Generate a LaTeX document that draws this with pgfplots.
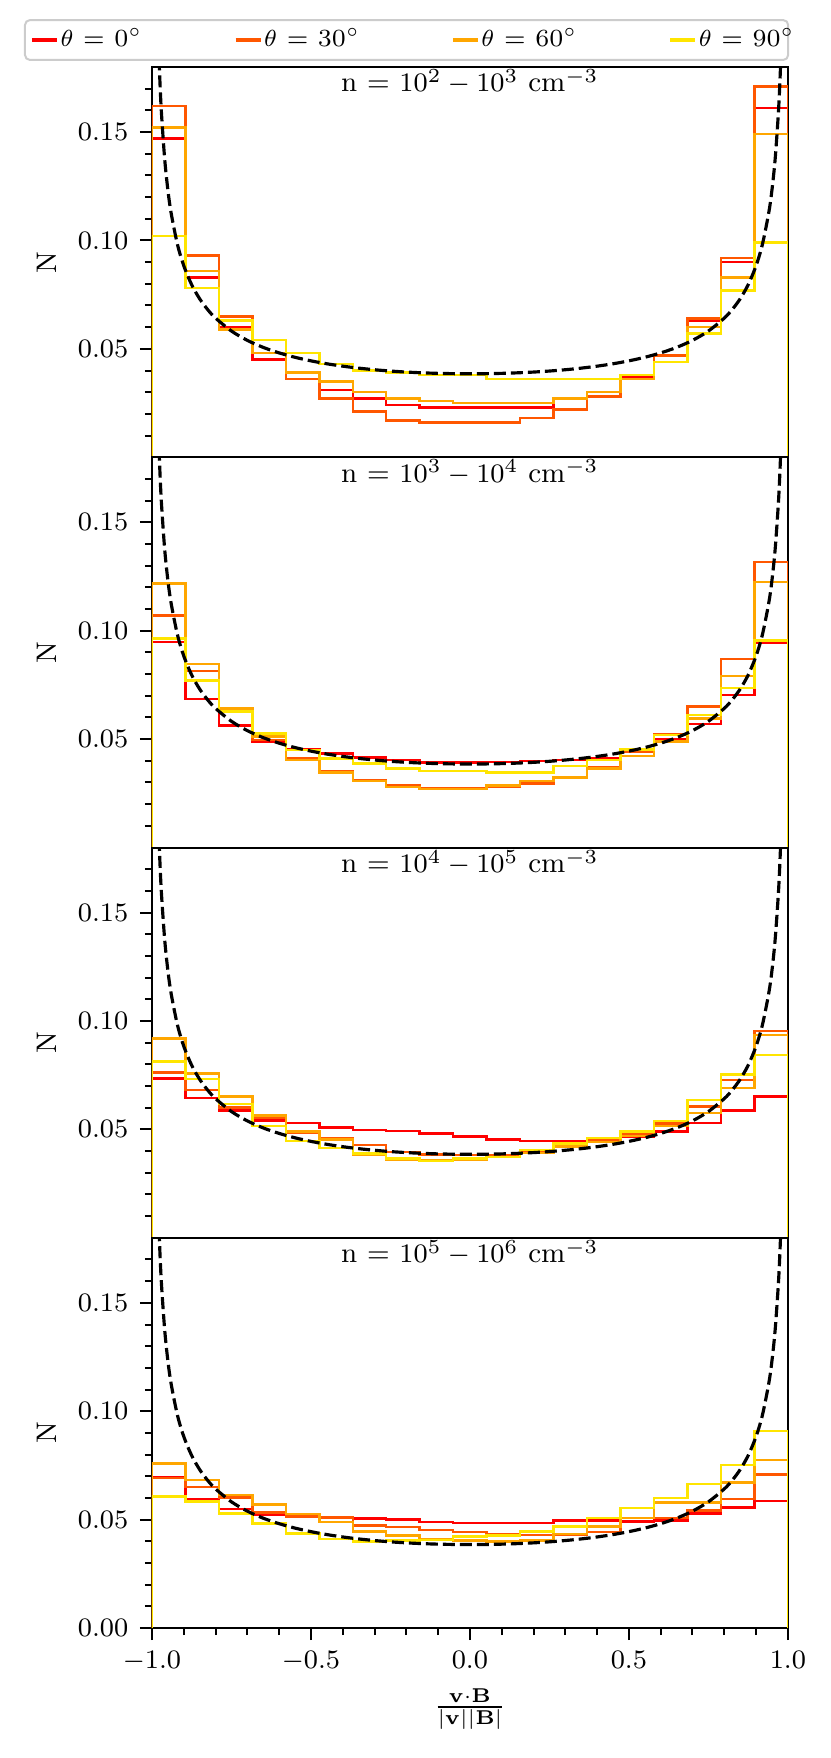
\documentclass[border=0pt]{standalone}
\usepackage{pgfplots}
\pgfplotsset{compat=1.18}
\usepackage{pgfplotstable}
\usepgfplotslibrary{groupplots}
\definecolor{cA}{rgb}{1,0,0}
\definecolor{cB}{rgb}{1,0.34,0}
\definecolor{cC}{rgb}{1,0.65,0}
\definecolor{cD}{rgb}{1,0.9,0}

% bin left edges (19 bins on [-1,1]); first and last rows close the step outline at 0
\pgfplotstableread{
x r a b c
-1 0 0 0 0
-1.000000 0.147 0.162 0.152 0.102
-0.894737 0.083 0.093 0.086 0.078
-0.789474 0.060 0.065 0.059 0.063
-0.684211 0.045 0.048 0.048 0.054
-0.578947 0.036 0.036 0.039 0.048
-0.473684 0.031 0.027 0.035 0.043
-0.368421 0.027 0.021 0.030 0.040
-0.263158 0.024 0.017 0.027 0.039
-0.157895 0.023 0.016 0.026 0.038
-0.052632 0.023 0.016 0.025 0.038
0.052632 0.023 0.016 0.025 0.036
0.157895 0.023 0.018 0.025 0.036
0.263158 0.027 0.022 0.027 0.036
0.368421 0.030 0.028 0.030 0.036
0.473684 0.037 0.036 0.036 0.038
0.578947 0.047 0.047 0.044 0.044
0.684211 0.063 0.064 0.060 0.057
0.789474 0.090 0.092 0.083 0.077
0.894737 0.161 0.171 0.149 0.099
1 0.161 0.171 0.149 0.099
1 0 0 0 0
}\tA

\pgfplotstableread{
x r a b c
-1 0 0 0 0
-1.000000 0.0948 0.1071 0.1218 0.0963
-0.894737 0.0684 0.0815 0.0846 0.0770
-0.789474 0.0562 0.0634 0.0642 0.0627
-0.684211 0.0488 0.0495 0.0511 0.0526
-0.578947 0.0455 0.0410 0.0403 0.0449
-0.473684 0.0434 0.0350 0.0346 0.0410
-0.368421 0.0415 0.0310 0.0307 0.0387
-0.263158 0.0403 0.0285 0.0279 0.0364
-0.157895 0.0392 0.0275 0.0271 0.0352
-0.052632 0.0392 0.0275 0.0270 0.0352
0.052632 0.0395 0.0280 0.0287 0.0347
0.157895 0.0398 0.0295 0.0307 0.0347
0.263158 0.0403 0.0320 0.0323 0.0375
0.368421 0.0410 0.0370 0.0364 0.0403
0.473684 0.0441 0.0441 0.0423 0.0452
0.578947 0.0500 0.0523 0.0488 0.0519
0.684211 0.0570 0.0650 0.0596 0.0611
0.789474 0.0704 0.0869 0.0792 0.0735
0.894737 0.0943 0.1316 0.1224 0.0955
1 0.0943 0.1316 0.1224 0.0955
1 0 0 0 0
}\tB

\pgfplotstableread{
x r a b c
-1 0 0 0 0
-1.000000 0.0735 0.0763 0.0919 0.0812
-0.894737 0.0644 0.0682 0.0758 0.0732
-0.789474 0.0587 0.0602 0.0651 0.0618
-0.684211 0.0540 0.0552 0.0564 0.0515
-0.578947 0.0529 0.0485 0.0491 0.0446
-0.473684 0.0508 0.0457 0.0453 0.0414
-0.368421 0.0498 0.0427 0.0381 0.0388
-0.263158 0.0492 0.0396 0.0361 0.0365
-0.157895 0.0480 0.0385 0.0358 0.0353
-0.052632 0.0468 0.0381 0.0358 0.0365
0.052632 0.0453 0.0381 0.0373 0.0373
0.157895 0.0446 0.0396 0.0391 0.0404
0.263158 0.0446 0.0427 0.0420 0.0434
0.368421 0.0446 0.0454 0.0442 0.0460
0.473684 0.0465 0.0476 0.0469 0.0491
0.578947 0.0491 0.0526 0.0515 0.0538
0.684211 0.0529 0.0606 0.0575 0.0636
0.789474 0.0587 0.0728 0.0691 0.0752
0.894737 0.0651 0.0954 0.0936 0.0843
1 0.0651 0.0954 0.0936 0.0843
1 0 0 0 0
}\tC

\pgfplotstableread{
x r a b c
-1 0 0 0 0
-1.000000 0.0697 0.0691 0.0760 0.0607
-0.894737 0.0595 0.0651 0.0682 0.0583
-0.789474 0.0549 0.0602 0.0613 0.0529
-0.684211 0.0521 0.0534 0.0569 0.0483
-0.578947 0.0515 0.0515 0.0526 0.0437
-0.473684 0.0511 0.0511 0.0488 0.0411
-0.368421 0.0506 0.0472 0.0446 0.0399
-0.263158 0.0500 0.0465 0.0427 0.0404
-0.157895 0.0488 0.0453 0.0408 0.0407
-0.052632 0.0485 0.0442 0.0404 0.0422
0.052632 0.0485 0.0434 0.0399 0.0427
0.157895 0.0485 0.0430 0.0404 0.0446
0.263158 0.0495 0.0430 0.0434 0.0469
0.368421 0.0495 0.0442 0.0469 0.0508
0.473684 0.0492 0.0508 0.0508 0.0553
0.578947 0.0495 0.0508 0.0580 0.0599
0.684211 0.0529 0.0541 0.0580 0.0664
0.789474 0.0557 0.0595 0.0671 0.0752
0.894737 0.0587 0.0709 0.0774 0.0908
1 0.0587 0.0709 0.0774 0.0908
1 0 0 0 0
}\tD

\pgfplotstableread{
x y
-0.985 0.22312
-0.98 0.19347
-0.975 0.17327
-0.97 0.15837
-0.96 0.13750
-0.95 0.12330
-0.94 0.11285
-0.92 0.09823
-0.9 0.08833
-0.875 0.07953
-0.85 0.07309
-0.825 0.06813
-0.8 0.06417
-0.75 0.05821
-0.7 0.05391
-0.65 0.05066
-0.6 0.04813
-0.55 0.04610
-0.5 0.04446
-0.45 0.04311
-0.4 0.04201
-0.35 0.04110
-0.3 0.04036
-0.25 0.03976
-0.2 0.03929
-0.15 0.03894
-0.1 0.03869
-0.05 0.03855
0 0.03850
0.05 0.03855
0.1 0.03869
0.15 0.03894
0.2 0.03929
0.25 0.03976
0.3 0.04036
0.35 0.04110
0.4 0.04201
0.45 0.04311
0.5 0.04446
0.55 0.04610
0.6 0.04813
0.65 0.05066
0.7 0.05391
0.75 0.05821
0.8 0.06417
0.825 0.06813
0.85 0.07309
0.875 0.07953
0.9 0.08833
0.92 0.09823
0.94 0.11285
0.95 0.12330
0.96 0.13750
0.97 0.15837
0.975 0.17327
0.98 0.19347
0.985 0.22312
}\tF

\pgfplotsset{
  hist/.style={const plot mark left, line width=0.75pt, no marks},
  ref/.style={black, line width=0.95pt, dash pattern=on 3.6pt off 1.5pt, no marks, smooth},
}
\tikzset{
  ptitle/.style={anchor=north, inner sep=0pt, yshift=-0.6pt, font=\fontsize{8.5}{9.5}\selectfont},
}

\begin{document}
\begin{tikzpicture}
\begin{groupplot}[
  group style={group size=1 by 4, vertical sep=0pt},
  scale only axis, width=190.8pt, height=117.1pt,
  xmin=-1, xmax=1, ymin=0, ymax=0.18,
  axis line style={line width=0.6pt},
  tick align=outside, tick pos=left,
  major tick length=3.6pt, minor tick length=2.1pt,
  tick style={line width=0.6pt, black},
  ytick={0.05,0.10,0.15},
  minor ytick={0.01,0.02,0.03,0.04,0.06,0.07,0.08,0.09,0.11,0.12,0.13,0.14,0.16,0.17},
  yticklabel style={/pgf/number format/.cd, fixed, fixed zerofill, precision=2},
  xticklabel style={/pgf/number format/.cd, fixed, fixed zerofill, precision=1},
  tick label style={font=\fontsize{8.5}{10}\selectfont},
  xtick=\empty,
  ylabel={N},
  every axis y label/.style={at={(axis description cs:-0.165,0.5)}, rotate=90, anchor=center, font=\fontsize{8.5}{10}\selectfont},
]
\nextgroupplot[
  legend columns=4,
  legend style={at={(axis description cs:-0.2013,1)}, anchor=south west, yshift=1.8pt,
    draw=black!20, rounded corners=1.5pt, line width=0.6pt, fill=white,
    inner xsep=1.5pt, inner ysep=2.1pt, column sep=0pt,
    nodes={inner sep=0.4pt, font=\fontsize{7.4}{8.5}\selectfont, anchor=west}},
  legend image code/.code={\draw[#1, line width=1.2pt] (0pt,0pt) -- (7.5pt,0pt);},
]
\coordinate (TL) at (rel axis cs:0,1);
\addplot[hist, cA] table[x=x, y=r] {\tA};
\addlegendentry{\makebox[51.6pt][l]{$\theta$ = 0$^\circ$}}
\addplot[hist, cB] table[x=x, y=a] {\tA};
\addlegendentry{\makebox[55.7pt][l]{$\theta$ = 30$^\circ$}}
\addplot[hist, cC] table[x=x, y=b] {\tA};
\addlegendentry{\makebox[55.7pt][l]{$\theta$ = 60$^\circ$}}
\addplot[hist, cD] table[x=x, y=c] {\tA};
\addlegendentry{\makebox[25pt][l]{$\theta$ = 90$^\circ$}}
\addplot[ref, forget plot] table[x=x, y=y] {\tF};
\node[ptitle] at (axis description cs:0.5,1) {n = $10^2 - 10^3$ cm$^{-3}$};

\nextgroupplot
\addplot[hist, cA] table[x=x, y=r] {\tB};
\addplot[hist, cB] table[x=x, y=a] {\tB};
\addplot[hist, cC] table[x=x, y=b] {\tB};
\addplot[hist, cD] table[x=x, y=c] {\tB};
\addplot[ref] table[x=x, y=y] {\tF};
\node[ptitle] at (axis description cs:0.5,1) {n = $10^3 - 10^4$ cm$^{-3}$};

\nextgroupplot
\addplot[hist, cA] table[x=x, y=r] {\tC};
\addplot[hist, cB] table[x=x, y=a] {\tC};
\addplot[hist, cC] table[x=x, y=b] {\tC};
\addplot[hist, cD] table[x=x, y=c] {\tC};
\addplot[ref] table[x=x, y=y] {\tF};
\node[ptitle] at (axis description cs:0.5,1) {n = $10^4 - 10^5$ cm$^{-3}$};

\nextgroupplot[
  ytick={0,0.05,0.10,0.15},
  xtick={-1,-0.5,0,0.5,1},
  minor xtick={-0.9,-0.8,-0.7,-0.6,-0.4,-0.3,-0.2,-0.1,0.1,0.2,0.3,0.4,0.6,0.7,0.8,0.9},
  xlabel={$\frac{\mathbf{v}\cdot\mathbf{B}}{|\mathbf{v}||\mathbf{B}|}$},
  xlabel style={at={(axis description cs:0.5,0)}, anchor=center, yshift=-24.3pt, font=\fontsize{9}{10}\selectfont},
]
\coordinate (BR) at (rel axis cs:1,0);
\addplot[hist, cA] table[x=x, y=r] {\tD};
\addplot[hist, cB] table[x=x, y=a] {\tD};
\addplot[hist, cC] table[x=x, y=b] {\tD};
\addplot[hist, cD] table[x=x, y=c] {\tD};
\addplot[ref] table[x=x, y=y] {\tF};
\node[ptitle] at (axis description cs:0.5,1) {n = $10^5 - 10^6$ cm$^{-3}$};
\end{groupplot}
\pgfresetboundingbox
\path[use as bounding box] ([shift={(-45.6pt,20.1pt)}]TL) rectangle ([shift={(12.9pt,-39pt)}]BR);
\end{tikzpicture}
\end{document}
